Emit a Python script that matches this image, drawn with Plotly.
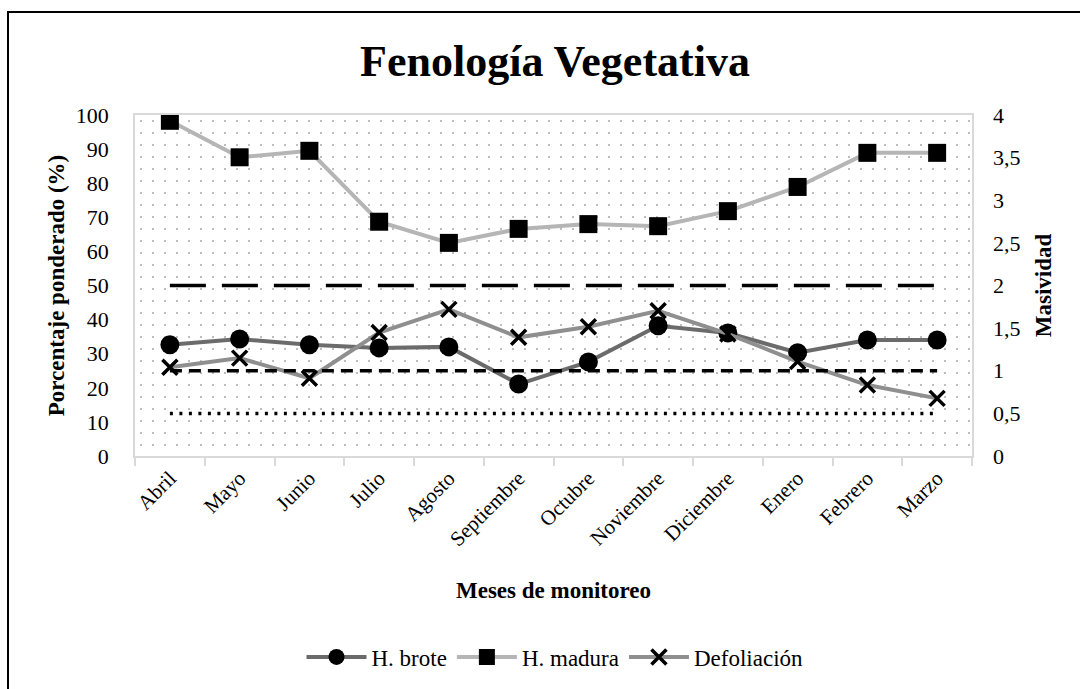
import plotly.graph_objects as go

meses = ["Abril", "Mayo", "Junio", "Julio", "Agosto", "Septiembre", "Octubre",
         "Noviembre", "Diciembre", "Enero", "Febrero", "Marzo"]
h_brote = [32.6, 34.3, 32.6, 31.7, 32.0, 21.1, 27.6, 38.2, 36.1, 30.3, 34.0, 34.0]
h_madura = [98.3, 87.6, 89.5, 68.7, 62.5, 66.6, 68.0, 67.4, 71.8, 78.9, 88.9, 88.9]
defoliacion = [26.0, 28.7, 22.8, 36.2, 43.0, 34.8, 37.9, 42.6, 35.8, 27.7, 20.8, 16.9]
# Masividad reference levels (right axis)
nivel_alto = [2] * 12
nivel_medio = [1] * 12
nivel_bajo = [0.5] * 12
fondo = [100] * 12

FONT = "Liberation Serif"

W, H = 1080, 689
L, R, T, B = 135, 972, 115, 456

fig = go.Figure()

# dotted background of the plot area
fig.add_trace(go.Bar(
    x=meses, y=fondo, width=1, showlegend=False, hoverinfo="skip",
    marker=dict(color="white", line=dict(width=0),
                pattern=dict(shape=".", size=12, solidity=0.022,
                             fgcolor="#a8a8a8", bgcolor="white", fillmode="replace")),
))

# reference lines on the Masividad axis
fig.add_trace(go.Scatter(x=meses, y=nivel_alto, yaxis="y2", mode="lines", showlegend=False,
                         hoverinfo="skip", line=dict(color="black", width=3.5, dash="36px,16px")))
fig.add_trace(go.Scatter(x=meses, y=nivel_medio, yaxis="y2", mode="lines", showlegend=False,
                         hoverinfo="skip", line=dict(color="black", width=3.5, dash="12px,7px")))
fig.add_trace(go.Scatter(x=meses, y=nivel_bajo, yaxis="y2", mode="lines", showlegend=False,
                         hoverinfo="skip", line=dict(color="black", width=3.5, dash="3px,6.5px")))

fig.add_trace(go.Scatter(x=meses, y=h_brote, name="H. brote", mode="lines+markers",
                         line=dict(color="#6b6b6b", width=4),
                         marker=dict(symbol="circle", size=19, color="black")))
fig.add_trace(go.Scatter(x=meses, y=h_madura, name="H. madura", mode="lines+markers",
                         line=dict(color="#b5b5b5", width=4),
                         marker=dict(symbol="square", size=18, color="black")))
fig.add_trace(go.Scatter(x=meses, y=defoliacion, name="Defoliación", mode="lines+markers",
                         line=dict(color="#8f8f8f", width=4),
                         marker=dict(symbol="x-thin", size=15, color="black",
                                     line=dict(color="black", width=3.5))))

fig.update_layout(
    width=W, height=H,
    margin=dict(l=L, r=W - R, t=T, b=H - B, autoexpand=False),
    paper_bgcolor="white", plot_bgcolor="white",
    separators=",.",
    font=dict(family=FONT, size=21, color="black"),
    bargap=0,
    title=dict(text="Fenología Vegetativa", x=555 / W, xanchor="center",
               y=1 - 61 / H, yanchor="middle",
               font=dict(family=FONT, size=44, color="black", weight="bold")),
    xaxis=dict(
        type="category", categoryorder="array", categoryarray=meses,
        range=[-0.5, 11.5], tickangle=-45, tickson="boundaries",
        ticks="outside", ticklen=8, tickcolor="#d9d9d9", tickwidth=1.5,
        showline=True, linecolor="#d9d9d9", linewidth=1.5, mirror=True,
        showgrid=False, tickfont=dict(family=FONT, size=21),
        title=dict(text="Meses de monitoreo", standoff=32,
                   font=dict(family=FONT, size=23, weight="bold")),
    ),
    yaxis=dict(
        range=[0, 100], dtick=10, showgrid=False, zeroline=False,
        showline=True, linecolor="#d9d9d9", linewidth=1.5, mirror=True,
        ticks="", ticklabelstandoff=20, tickfont=dict(family=FONT, size=22),
        title=dict(text="Porcentaje ponderado (%)", standoff=5,
                   font=dict(family=FONT, size=23, weight="bold")),
    ),
    yaxis2=dict(
        range=[0, 4], dtick=0.5, overlaying="y", side="right", showgrid=False,
        zeroline=False, ticks="", ticklabelstandoff=20, tickfont=dict(family=FONT, size=22),
        title=dict(text="Masividad", standoff=15,
                   font=dict(family=FONT, size=23, weight="bold")),
    ),
    legend=dict(orientation="h", x=(555 - L) / (R - L), xanchor="center",
                y=(B - 657) / (B - T), yanchor="middle",
                font=dict(family=FONT, size=23), itemwidth=60, tracegroupgap=0,
                bgcolor="rgba(0,0,0,0)"),
    shapes=[dict(type="rect", xref="paper", yref="paper",
                 x0=(8 - L) / (R - L), x1=1.3, y0=-0.9, y1=(B - 12) / (B - T),
                 line=dict(color="black", width=2), fillcolor="rgba(0,0,0,0)",
                 layer="above")],
)

fig.write_html("out.html", config={"displayModeBar": False},
               post_script="document.body.style.margin='0';document.body.style.overflow='hidden';")
